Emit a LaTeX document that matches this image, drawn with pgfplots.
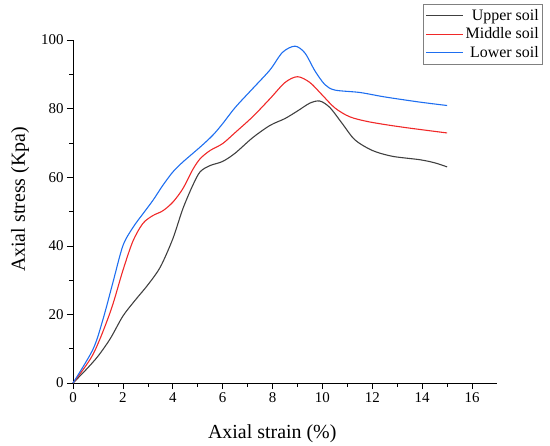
\documentclass[border=0pt]{standalone}
\usepackage{fontspec}
\setmainfont{Liberation Serif}
\usepackage{pgfplots}
\pgfplotsset{compat=1.18}
\definecolor{cUpper}{RGB}{64,64,64}
\definecolor{cMiddle}{RGB}{240,40,40}
\definecolor{cLower}{RGB}{30,110,240}
\begin{document}
\begin{tikzpicture}
\begin{axis}[name=ax, width=424bp, height=343bp, scale only axis,
 xmin=0, xmax=17, ymin=0, ymax=100,
 axis x line*=bottom, axis y line*=left,
 xtick={0,2,...,16}, ytick={0,20,...,100},
 minor x tick num=1, minor y tick num=1,
 tick align=outside, major tick length=6bp, minor tick length=3.5bp,
 every tick/.style={black, line width=0.6pt},
 axis line style={line width=0.8pt, black},
 tick label style={font=\fontsize{15}{15}\selectfont},
 /pgf/number format/assume math mode=true,
 xlabel={Axial strain (\%)}, ylabel={Axial stress (Kpa)},
 label style={font=\fontsize{20}{20}\selectfont},
 xlabel style={at={(axis description cs:0.47,0)}, anchor=base, yshift=-55bp},
 ylabel style={at={(axis description cs:0,0.535)}, anchor=center, yshift=53bp},
 legend style={at={(rel axis cs:1.1085,1.105)}, anchor=north east, draw=gray, line width=0.6pt,
   font=\fontsize{16}{19}\selectfont, inner xsep=2bp, inner ysep=3bp, row sep=2bp},
 legend cell align=right,
 legend image code/.code={\draw[#1] (0bp,0bp) -- (37bp,0bp);},
 clip=false,
]
\addplot[cUpper, line width=1.1pt, smooth, tension=0.5] coordinates {
(0,0) (0.5,3.7) (1.0,7.8) (1.5,13) (2.0,19.5) (2.5,24.2) (3.0,28.6) (3.5,33.8) (4.0,42) (4.4,50.7) (4.8,57.6) (5.1,61.6) (5.5,63.4) (6.0,64.6) (6.5,67) (7.2,71.5) (7.9,75.1) (8.5,77.1) (9.0,79.3) (9.5,81.6) (9.9,82.2) (10.3,80.3) (10.8,75.6) (11.3,70.9) (12.0,67.8) (12.8,66.1) (13.9,65.1) (14.5,64.2) (15.0,63)
};
\addlegendentry{Upper soil}
\addplot[cMiddle, line width=1.1pt, smooth, tension=0.5] coordinates {
(0,0) (0.8,8.3) (1.5,20.8) (2.0,32.8) (2.4,41.3) (2.8,46.5) (3.2,48.8) (3.6,50.2) (4.0,52.7) (4.4,56.6) (4.8,62.2) (5.1,65.4) (5.5,67.8) (6.0,69.8) (6.5,73) (7.2,77.6) (7.9,82.9) (8.5,87.6) (9.0,89.3) (9.5,87.6) (10.0,83.9) (10.5,80.2) (11.1,77.6) (11.9,76.1) (13.2,74.6) (15.0,72.9)
};
\addlegendentry{Middle soil}
\addplot[cLower, line width=1.1pt, smooth, tension=0.5] coordinates {
(0,0) (0.8,9.8) (1.2,18.5) (1.6,29.3) (2.0,40) (2.4,45.3) (2.8,49.3) (3.2,53.2) (3.6,57.6) (4.0,61.5) (4.4,64.4) (5.1,68.8) (5.6,72.2) (6.0,75.6) (6.5,80.3) (7.2,85.8) (7.9,91.3) (8.4,96.4) (8.9,98.2) (9.3,96.2) (9.7,91) (10.1,87) (10.5,85.4) (11.5,84.7) (12.5,83.4) (13.9,81.9) (15.0,80.9)
};
\addlegendentry{Lower soil}
\end{axis}
\pgfresetboundingbox
\path[use as bounding box] ([shift={(-73bp,-63bp)}]ax.south west) rectangle ([shift={(53bp,40bp)}]ax.north east);
\end{tikzpicture}
\end{document}
